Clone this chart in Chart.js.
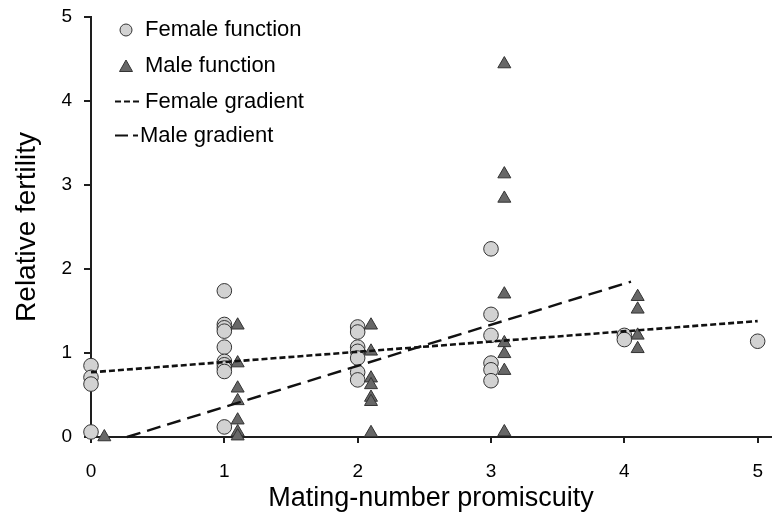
<!DOCTYPE html>
<html>
<head>
<meta charset="utf-8">
<script src="https://cdn.jsdelivr.net/npm/chart.js"></script>
<style>
  html, body { margin: 0; padding: 0; background: #fff; }
  #wrap { width: 772px; height: 523px; position: relative; }
</style>
</head>
<body>
<div id="wrap"><canvas id="c"></canvas></div>
<script>
// ---- data ----
const xTickValues = [0, 1, 2, 3, 4, 5];
const yTickValues = [0, 1, 2, 3, 4, 5];

const femaleX = [0, 0, 0, 0,
  1, 1, 1, 1, 1, 1, 1, 1, 1, 1,
  2, 2, 2, 2, 2, 2, 2,
  3, 3, 3, 3, 3, 3,
  4, 4,
  5];
const femaleY = [0.85, 0.71, 0.63, 0.06,
  1.74, 1.34, 1.30, 1.26, 1.07, 0.90, 0.86, 0.82, 0.78, 0.12,
  1.31, 1.25, 1.07, 1.02, 0.94, 0.77, 0.68,
  2.24, 1.46, 1.21, 0.88, 0.80, 0.67,
  1.21, 1.16,
  1.14];

const maleX = [0.1,
  1.1, 1.1, 1.1, 1.1, 1.1, 1.1, 1.1,
  2.1, 2.1, 2.1, 2.1, 2.1, 2.1, 2.1,
  3.1, 3.1, 3.1, 3.1, 3.1, 3.1, 3.1, 3.1,
  4.1, 4.1, 4.1, 4.1];
const maleY = [0.0,
  1.33, 0.88, 0.58, 0.43, 0.20, 0.06, 0.01,
  1.33, 1.02, 0.70, 0.62, 0.47, 0.42, 0.05,
  4.44, 3.13, 2.84, 1.70, 1.12, 0.99, 0.79, 0.06,
  1.67, 1.52, 1.21, 1.05];

const femaleGradX = [0, 5];
const femaleGradY = [0.77, 1.38];
const maleGradX = [0.27, 4.05];
const maleGradY = [0.0, 1.85];

const legendLabels = ['Female function', 'Male function', 'Female gradient', 'Male gradient'];
const xTitle = 'Mating-number promiscuity';
const yTitle = 'Relative fertility';

// ---- build ----
const toPts = (xs, ys) => xs.map((x, i) => ({ x: x, y: ys[i] }));
const FONT = '"Liberation Sans", Arial, Helvetica, sans-serif';
const CIRCLE_FILL = '#d2d2d2';
const TRI_FILL = '#676767';
const EDGE = '#333333';
const AXIS = '#1e1e1e';

const legendPlugin = {
  id: 'customLegend',
  afterDraw(chart) {
    const ctx = chart.ctx;
    ctx.save();
    ctx.font = '22px ' + FONT;
    ctx.textBaseline = 'middle';
    ctx.fillStyle = '#000';
    const rows = [30, 66, 101.5, 135.5];
    const textX = [145, 145, 145, 140];
    // circle
    ctx.beginPath();
    ctx.arc(126, rows[0], 6, 0, Math.PI * 2);
    ctx.fillStyle = CIRCLE_FILL; ctx.fill();
    ctx.lineWidth = 1; ctx.strokeStyle = EDGE; ctx.stroke();
    // triangle
    ctx.beginPath();
    ctx.moveTo(126, rows[1] - 6);
    ctx.lineTo(132.5, rows[1] + 5.5);
    ctx.lineTo(119.5, rows[1] + 5.5);
    ctx.closePath();
    ctx.fillStyle = TRI_FILL; ctx.fill();
    ctx.strokeStyle = EDGE; ctx.stroke();
    // female gradient sample
    ctx.beginPath();
    ctx.setLineDash([6, 3]);
    ctx.lineWidth = 2;
    ctx.strokeStyle = '#111';
    ctx.moveTo(115, rows[2]); ctx.lineTo(141, rows[2]);
    ctx.stroke();
    // male gradient sample
    ctx.beginPath();
    ctx.setLineDash([13, 5]);
    ctx.moveTo(115, rows[3]); ctx.lineTo(138, rows[3]);
    ctx.stroke();
    ctx.setLineDash([]);
    ctx.fillStyle = '#000';
    legendLabels.forEach((t, i) => ctx.fillText(t, textX[i], rows[i]));
    ctx.restore();
  }
};

new Chart(document.getElementById('c'), {
  type: 'scatter',
  data: {
    datasets: [
      {
        label: legendLabels[2],
        data: toPts(femaleGradX, femaleGradY),
        showLine: true, pointRadius: 0, pointHoverRadius: 0,
        borderColor: '#111', borderWidth: 2.6, borderDash: [6, 3],
        fill: false, order: 0, clip: false
      },
      {
        label: legendLabels[3],
        data: toPts(maleGradX, maleGradY),
        showLine: true, pointRadius: 0, pointHoverRadius: 0,
        borderColor: '#111', borderWidth: 2.4, borderDash: [14, 7],
        fill: false, order: 0, clip: false
      },
      {
        label: legendLabels[1],
        data: toPts(maleX, maleY),
        pointStyle: 'triangle', pointRadius: 7.5,
        backgroundColor: TRI_FILL, borderColor: EDGE, borderWidth: 1,
        order: 1, clip: false
      },
      {
        label: legendLabels[0],
        data: toPts(femaleX, femaleY),
        pointStyle: 'circle', pointRadius: 7.3,
        backgroundColor: CIRCLE_FILL, borderColor: EDGE, borderWidth: 1,
        order: 2, clip: false
      }
    ]
  },
  options: {
    responsive: true,
    maintainAspectRatio: false,
    animation: false,
    events: [],
    layout: { autoPadding: false, padding: { top: 17, right: 1, bottom: 8, left: 0 } },
    plugins: { legend: { display: false }, tooltip: { enabled: false } },
    scales: {
      x: {
        type: 'linear', min: 0, max: 5.1,
        afterBuildTicks: (s) => { s.ticks = xTickValues.map(v => ({ value: v })); },
        afterFit: (s) => { s.height = 78; s.paddingLeft = 0; s.paddingRight = 0; },
        border: { display: true, color: AXIS, width: 2 },
        grid: { display: true, drawOnChartArea: false, drawTicks: true, tickLength: 6, color: AXIS, lineWidth: 2 },
        ticks: { color: '#000', font: { family: FONT, size: 19 }, padding: 17, maxRotation: 0 },
        title: { display: true, text: xTitle, color: '#000', font: { family: FONT, size: 27 }, padding: { top: 0, bottom: 0 } }
      },
      y: {
        type: 'linear', min: 0, max: 5,
        afterBuildTicks: (s) => { s.ticks = yTickValues.map(v => ({ value: v })); },
        afterFit: (s) => { s.width = 91; s.paddingTop = 0; s.paddingBottom = 0; },
        border: { display: true, color: AXIS, width: 2 },
        grid: { display: true, drawOnChartArea: false, drawTicks: true, tickLength: 7, color: AXIS, lineWidth: 2 },
        ticks: { color: '#000', font: { family: FONT, size: 19 }, padding: 12 },
        title: { display: true, text: yTitle, color: '#000', font: { family: FONT, size: 28 }, padding: { top: 10, bottom: 0 } }
      }
    }
  },
  plugins: [legendPlugin]
});
</script>
</body>
</html>
